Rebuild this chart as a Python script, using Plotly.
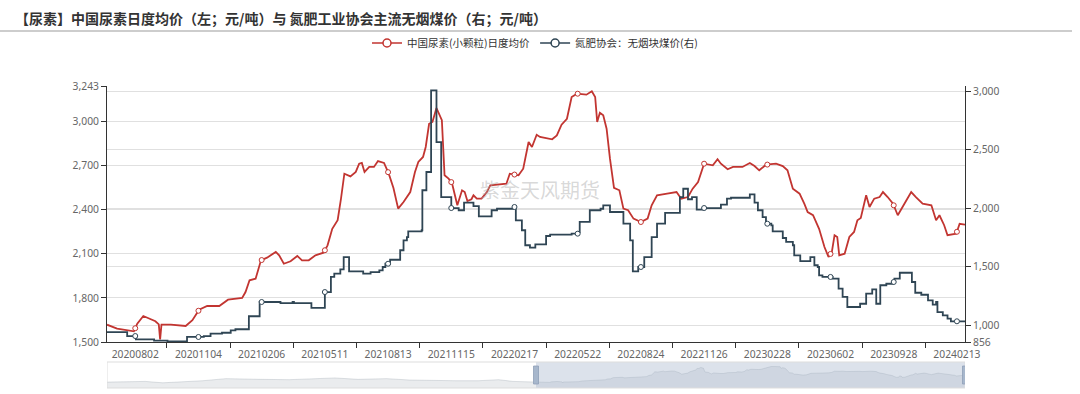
import numpy as np
import plotly.graph_objects as go

# ---------------- data ----------------
label_dates = ['20200802', '20201104', '20210206', '20210511', '20210813', '20211115', '20220217',
               '20220522', '20220824', '20221126', '20230228', '20230602', '20230928', '20240213']
label_idx = [42, 136, 230, 324, 418, 512, 606, 700, 794, 888, 982, 1076, 1170, 1264]
tick_idx = [89, 183, 277, 371, 465, 559, 653, 747, 841, 935, 1029, 1123, 1217]
n_cat = 1276

urea_idx = [0, 15, 40, 45, 54, 62, 72, 77, 79, 81, 95, 117, 127, 137, 149, 167, 174, 180, 201, 206,
            212, 221, 229, 238, 251, 256, 263, 273, 283, 290, 300, 310, 322, 328, 335, 343, 348, 353,
            362, 370, 375, 379, 383, 390, 397, 403, 412, 419, 426, 433, 441, 451, 458, 463, 470, 474,
            479, 484, 490, 495, 498, 502, 508, 513, 518, 521, 528, 532, 536, 542, 545, 550, 557, 565,
            570, 594, 599, 612, 619, 627, 632, 639, 644, 662, 669, 676, 684, 691, 699, 713, 721, 726,
            729, 733, 738, 743, 748, 754, 762, 768, 775, 783, 794, 804, 810, 818, 833, 847, 854, 864,
            871, 879, 888, 901, 908, 913, 923, 931, 945, 956, 963, 970, 980, 995, 1005, 1012, 1020,
            1030, 1037, 1042, 1050, 1059, 1067, 1073, 1078, 1082, 1086, 1089, 1097, 1104, 1111, 1116,
            1121, 1129, 1134, 1141, 1149, 1154, 1161, 1169, 1176, 1186, 1196, 1203, 1213, 1226, 1233,
            1238, 1245, 1250, 1263, 1268, 1274, 1276]
urea_val = [1618, 1591, 1573, 1625, 1677, 1659, 1641, 1620, 1518, 1618, 1618, 1609, 1648, 1720, 1745,
            1745, 1766, 1788, 1800, 1840, 1920, 1931, 2056, 2074, 2113, 2090, 2033, 2050, 2086, 2056,
            2056, 2090, 2108, 2158, 2271, 2329, 2476, 2646, 2628, 2658, 2714, 2719, 2658, 2692, 2692,
            2732, 2719, 2646, 2549, 2408, 2453, 2521, 2658, 2726, 2760, 2828, 2986, 2998, 3093, 3048,
            3010, 2635, 2612, 2583, 2487, 2431, 2533, 2521, 2460, 2472, 2499, 2476, 2476, 2521, 2567,
            2578, 2646, 2635, 2680, 2862, 2828, 2911, 2896, 2880, 2907, 2980, 3020, 3168, 3191, 3184,
            3207, 3168, 2998, 3061, 3044, 2952, 2748, 2549, 2533, 2408, 2397, 2340, 2317, 2340, 2431,
            2499, 2510, 2521, 2476, 2487, 2544, 2589, 2714, 2703, 2744, 2714, 2676, 2692, 2692, 2719,
            2698, 2669, 2707, 2714, 2698, 2669, 2544, 2510, 2442, 2385, 2363, 2271, 2147, 2079, 2113,
            2227, 2215, 2090, 2101, 2215, 2249, 2329, 2344, 2499, 2419, 2476, 2487, 2521, 2487, 2442,
            2363, 2442, 2521, 2487, 2442, 2431, 2329, 2363, 2295, 2227, 2237, 2305, 2299, 2299]

coal_idx = [0, 20, 30, 43, 70, 90, 119, 144, 154, 171, 184, 191, 211, 227, 258, 276, 278, 304, 324, 333,
            338, 347, 352, 360, 381, 392, 405, 410, 414, 421, 436, 441, 446, 448, 468, 469, 475, 482,
            490, 497, 512, 523, 531, 545, 553, 572, 580, 604, 608, 617, 622, 629, 637, 653, 659, 691,
            701, 703, 718, 734, 738, 748, 768, 778, 782, 790, 799, 810, 818, 830, 852, 857, 864, 870,
            877, 886, 913, 922, 928, 956, 963, 968, 975, 980, 988, 990, 1005, 1010, 1020, 1022, 1031,
            1046, 1052, 1057, 1059, 1064, 1079, 1088, 1094, 1101, 1120, 1129, 1138, 1144, 1150, 1159,
            1169, 1171, 1179, 1197, 1202, 1211, 1221, 1228, 1233, 1235, 1243, 1250, 1255, 1276]
coal_val = [941, 941, 907, 879, 867, 862, 899, 907, 927, 935, 956, 965, 1076, 1198, 1189, 1198, 1189,
            1147, 1283, 1412, 1440, 1477, 1582, 1460, 1440, 1454, 1469, 1497, 1525, 1559, 1640, 1725,
            1753, 1802, 1811, 2153, 2309, 3007, 2565, 2095, 2001, 1982, 2047, 2018, 1930, 1982, 1995,
            2010, 1896, 1811, 1683, 1662, 1691, 1762, 1773, 1782, 1796, 1882, 1982, 1995, 2024, 1967,
            1867, 1725, 1460, 1497, 1582, 1753, 1867, 1959, 2095, 2166, 2076, 2095, 1987, 2001, 2030,
            2081, 2089, 2118, 2047, 1982, 1924, 1867, 1853, 1802, 1745, 1711, 1683, 1597, 1548, 1582,
            1512, 1497, 1426, 1412, 1397, 1312, 1241, 1155, 1183, 1269, 1306, 1183, 1341, 1354, 1369,
            1397, 1448, 1369, 1277, 1260, 1212, 1175, 1198, 1112, 1084, 1055, 1033, 1033]

# earlier urea history shown only in the zoom-slider shadow
hist_idx = [0, 114, 166, 217, 285, 354, 388, 456, 542, 627, 678, 747, 832, 900, 969, 1037, 1106,
            1165, 1208, 1259, 1276]
hist_val = [1601, 1671, 1530, 1601, 1742, 1954, 1954, 1883, 1848, 1954, 2025, 1883, 1954, 1813, 1742,
            1742, 1742, 1848, 1671, 1601, 1610]

left_ticks = [1500, 1800, 2100, 2400, 2700, 3000, 3243]
right_ticks = [856, 1000, 1500, 2000, 2500, 3000]

RED = '#c23531'
NAVY = '#2f4554'
name_urea = '中国尿素(小颗粒)日度均价'
name_coal = '氮肥协会：无烟块煤价(右)'
title_text = '【尿素】中国尿素日度均价（左；元/吨）与 氮肥工业协会主流无烟煤价（右；元/吨）'
watermark = '紫金天风期货'

# ---------------- geometry (px) ----------------
W, H = 1080, 394
L, R = 107, 965
T, B_slider = 86, 388
PH = B_slider - T
main_bottom = (B_slider - 342) / PH
slider_top = (B_slider - 362) / PH


def py(p):
    return (B_slider - p) / PH


def px(p):
    return (p - L) / (R - L)


FONT = 'Noto Sans CJK SC, Noto Sans, sans-serif'
TICKFONT = dict(size=10.3, color='#666', family='Noto Sans, sans-serif')

fig = go.Figure()

fig.add_trace(go.Scatter(x=urea_idx, y=urea_val, mode='lines', line=dict(color=RED, width=1.8),
                         showlegend=False, hoverinfo='skip', yaxis='y'))
fig.add_trace(go.Scatter(x=coal_idx, y=coal_val, mode='lines', line=dict(color=NAVY, width=1.8, shape='hv'),
                         showlegend=False, hoverinfo='skip', yaxis='y2'))

# symbols at label positions
u_idx = np.array(urea_idx)
c_idx = np.array(coal_idx)
mk_u = np.interp(label_idx, u_idx, urea_val)
mk_c = [coal_val[int(np.searchsorted(c_idx, li, side='right')) - 1] for li in label_idx]
fig.add_trace(go.Scatter(x=label_idx, y=mk_u, mode='markers', yaxis='y', showlegend=False,
                         marker=dict(symbol='circle', size=5, color='white', line=dict(color=RED, width=1)),
                         hoverinfo='skip'))
fig.add_trace(go.Scatter(x=label_idx, y=mk_c, mode='markers', yaxis='y2', showlegend=False,
                         marker=dict(symbol='circle', size=5, color='white', line=dict(color=NAVY, width=1)),
                         hoverinfo='skip'))

# legend entries
for nm, col in [(name_urea, RED), (name_coal, NAVY)]:
    fig.add_trace(go.Scatter(x=[None], y=[None], mode='lines+markers', name=nm,
                             line=dict(color=col, width=1.5),
                             marker=dict(symbol='circle', size=8, color='white', line=dict(color=col, width=1.5))))

# slider shadow
sx = list(hist_idx) + [n_cat + 1 + i for i in urea_idx]
sy = list(hist_val) + list(urea_val)
fig.add_trace(go.Scatter(x=sx, y=sy, xaxis='x2', yaxis='y3', mode='lines', fill='tozeroy',
                         line=dict(color='rgba(47,69,84,0.25)', width=0.6),
                         fillcolor='rgba(47,69,84,0.10)', showlegend=False, hoverinfo='skip'))

total = 2 * n_cat + 1
shapes = [
    dict(type='line', xref='paper', yref='paper', x0=px(0), x1=px(1072), y0=py(31), y1=py(31),
         line=dict(color='#bdbdbd', width=1.5)),
    dict(type='rect', xref='x2', yref='paper', x0=n_cat + 0.5, x1=total, y0=0, y1=slider_top,
         fillcolor='rgba(167,183,204,0.40)', line=dict(width=0), layer='above'),
    dict(type='rect', xref='x2', yref='paper', x0=0, x1=total, y0=0, y1=slider_top,
         fillcolor='rgba(0,0,0,0)', line=dict(color='#dddddd', width=1)),
]
for hx in [n_cat + 0.5, total]:
    shapes.append(dict(type='rect', xref='x2', yref='paper', xsizemode='pixel', xanchor=hx, x0=-2.5, x1=2.5,
                       y0=py(384), y1=py(366), fillcolor='#a7b7cc', line=dict(color='#8fa0b7', width=0.8)))

fig.update_layout(
    width=W, height=H,
    margin=dict(l=L, r=W - R, t=T, b=H - B_slider, pad=0, autoexpand=False),
    paper_bgcolor='white', plot_bgcolor='white',
    font=dict(family=FONT, size=11, color='#666'),
    showlegend=True,
    legend=dict(orientation='h', x=px(535), xanchor='center', y=py(43), yanchor='middle',
                font=dict(size=10.5, color='#333', family=FONT), itemwidth=30,
                bgcolor='rgba(0,0,0,0)', tracegroupgap=0),
    xaxis=dict(domain=[0, 1], range=[0, n_cat], anchor='y', tickmode='array', tickvals=label_idx,
               ticktext=label_dates, ticks='', showline=True, linecolor='#333', linewidth=1,
               showgrid=False, zeroline=False, tickfont=TICKFONT, ticklabelstandoff=3,
               minor=dict(tickmode='array', tickvals=tick_idx, ticks='outside', ticklen=5,
                          tickcolor='#333', tickwidth=1, showgrid=False)),
    yaxis=dict(domain=[main_bottom, 1], range=[1500, 3243], tickmode='array', tickvals=left_ticks,
               ticktext=[f'{v:,}' for v in left_ticks], ticks='outside', ticklen=5, tickcolor='#333',
               showline=True, linecolor='#333', linewidth=1, gridcolor='#e0e0e0', gridwidth=1,
               zeroline=False, tickfont=TICKFONT),
    yaxis2=dict(overlaying='y', side='right', anchor='x', range=[856, 3044], tickmode='array',
                tickvals=right_ticks, ticktext=[f'{v:,}' for v in right_ticks], ticks='outside',
                ticklen=5, tickcolor='#333', showline=True, linecolor='#333', linewidth=1,
                gridcolor='#e0e0e0', gridwidth=1, zeroline=False, tickfont=TICKFONT),
    xaxis2=dict(domain=[0, 1], anchor='y3', range=[0, total], visible=False),
    yaxis3=dict(domain=[0, slider_top], range=[1000, 3650], visible=False),
    shapes=shapes,
    annotations=[
        dict(text='<b>' + title_text + '</b>', xref='paper', yref='paper', x=px(13), y=py(18),
             xanchor='left', yanchor='middle', showarrow=False,
             font=dict(size=14, color='#333', family=FONT)),
        dict(text=watermark, xref='paper', yref='paper', x=px(540), y=py(189), xanchor='center',
             yanchor='middle', showarrow=False, font=dict(size=20, color='rgba(170,170,170,0.45)', family=FONT)),
    ],
)

fig.write_html('out.html', config={'displayModeBar': False},
               post_script="document.body.style.margin='0px';")
